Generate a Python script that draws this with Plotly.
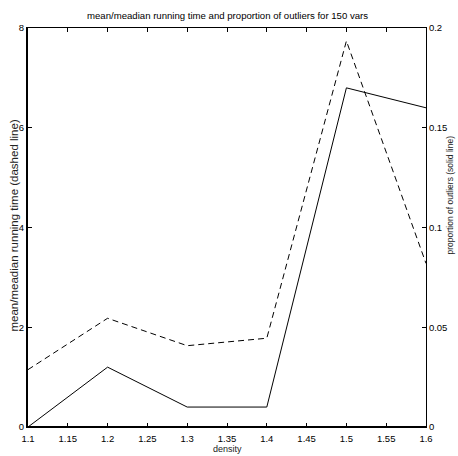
import plotly.graph_objects as go

density = [1.1, 1.2, 1.3, 1.4, 1.5, 1.6]
mean_median_ratio = [1.15, 2.18, 1.63, 1.78, 7.74, 3.28]
outlier_proportion = [0.0, 0.03, 0.01, 0.01, 0.17, 0.16]

x_ticks = [1.1, 1.15, 1.2, 1.25, 1.3, 1.35, 1.4, 1.45, 1.5, 1.55, 1.6]
x_ticklabels = ["1.1", "1.15", "1.2", "1.25", "1.3", "1.35", "1.4", "1.45", "1.5", "1.55", "1.6"]
y1_ticks = [0, 2, 4, 6, 8]
y2_ticks = [0, 0.05, 0.1, 0.15, 0.2]
y2_ticklabels = ["0", "0.05", "0.1", "0.15", "0.2"]

title_text = "mean/meadian running time and proportion of outliers for 150 vars"
xlabel = "density"
y1label = "mean/meadian running time (dashed line)"
y2label = "proportion of outliers (solid line)"

SANS = "Liberation Sans, Arial, Helvetica, sans-serif"

fig = go.Figure()
fig.add_trace(go.Scatter(
    x=density, y=mean_median_ratio, mode="lines",
    line=dict(color="black", width=1, dash="6px,4px"),
    yaxis="y", showlegend=False, hoverinfo="skip"))
fig.add_trace(go.Scatter(
    x=density, y=outlier_proportion, mode="lines",
    line=dict(color="black", width=1),
    yaxis="y2", showlegend=False, hoverinfo="skip"))

tickfont = dict(family=SANS, size=9.5, color="black")

fig.update_layout(
    width=458, height=456,
    margin=dict(l=28, r=32, t=28, b=29, pad=0),
    paper_bgcolor="white", plot_bgcolor="white",
    showlegend=False,
    xaxis=dict(
        range=[1.1, 1.6], tickvals=x_ticks, ticktext=x_ticklabels,
        ticks="inside", ticklen=4, tickwidth=1, tickcolor="black",
        showline=True, linecolor="black", linewidth=1, mirror="ticks",
        showgrid=False, zeroline=False, tickfont=tickfont,
        ticklabelstandoff=3,
    ),
    yaxis=dict(
        range=[0, 8], tickvals=y1_ticks,
        ticks="inside", ticklen=4, tickwidth=1, tickcolor="black",
        showline=True, linecolor="black", linewidth=2,
        showgrid=False, zeroline=False, tickfont=tickfont,
    ),
    yaxis2=dict(
        range=[0, 0.2], tickvals=y2_ticks, ticktext=y2_ticklabels,
        overlaying="y", side="right",
        ticks="inside", ticklen=4, tickwidth=1, tickcolor="black",
        showline=True, linecolor="black", linewidth=1,
        showgrid=False, zeroline=False, tickfont=tickfont,
    ),
    shapes=[dict(type="line", xref="paper", yref="paper", x0=0, x1=1, y0=0, y1=0,
                 line=dict(color="black", width=2))],
    annotations=[
        dict(text=title_text, xref="paper", yref="paper", x=0.5, y=1, yshift=13,
             showarrow=False, xanchor="center", yanchor="middle",
             font=dict(family=SANS, size=9.6, color="black")),
        dict(text=xlabel, xref="paper", yref="paper", x=0.5, y=0, yshift=-22,
             showarrow=False, xanchor="center", yanchor="middle",
             font=dict(family=SANS, size=9, color="#222")),
        dict(text=y1label, xref="paper", yref="paper", x=0, xshift=-14, y=0.505,
             textangle=-90, showarrow=False, xanchor="center", yanchor="middle",
             font=dict(family=SANS, size=11.5, color="#222")),
        dict(text=y2label, xref="paper", yref="paper", x=1, xshift=24, y=0.58,
             textangle=-90, showarrow=False, xanchor="center", yanchor="middle",
             font=dict(family=SANS, size=8.5, color="#222")),
    ],
)

fig.write_html("out.html", config={"displayModeBar": False},
               post_script="document.body.style.margin='0px';document.body.style.padding='0px';")
